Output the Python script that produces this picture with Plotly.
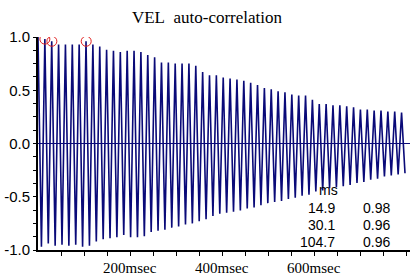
import plotly.graph_objects as go

# ---- data ----
PERIOD_MS = 14.9  # oscillation period (from table)
peak_values = [1.00, 0.98, 0.96, 0.93, 0.93, 0.93, 0.93, 0.96, 0.93, 0.91, 0.88, 0.87, 0.86,
               0.87, 0.87, 0.86, 0.83, 0.81, 0.76, 0.76, 0.75, 0.75, 0.75, 0.73, 0.67, 0.64,
               0.64, 0.62, 0.61, 0.60, 0.59, 0.57, 0.55, 0.52, 0.51, 0.49, 0.48, 0.46, 0.45, 0.45,
               0.41, 0.37, 0.37, 0.36, 0.36, 0.35, 0.34, 0.32, 0.32, 0.31, 0.31, 0.30, 0.30, 0.29]
trough_values = [-0.97, -0.94, -0.96, -0.95, -0.96, -0.95, -0.97, -0.96, -0.92, -0.90, -0.89, -0.88, -0.86,
                 -0.88, -0.88, -0.87, -0.83, -0.82, -0.81, -0.79, -0.78, -0.76, -0.75, -0.73, -0.71, -0.68,
                 -0.66, -0.65, -0.64, -0.63, -0.61, -0.60, -0.58, -0.56, -0.55, -0.54, -0.52, -0.51, -0.49, -0.48,
                 -0.45, -0.44, -0.42, -0.41, -0.40, -0.39, -0.37, -0.36, -0.34, -0.33, -0.31, -0.30, -0.29, -0.28]

marked_lags = [14.9, 30.1, 104.7]
marked_values = [0.98, 0.96, 0.96]

table_ms = ["14.9", "30.1", "104.7"]
table_val = ["0.98", "0.96", "0.96"]

x_tick_vals = [200, 400, 600]
x_tick_text = ["200msec", "400msec", "600msec"]
y_tick_vals = [1.0, 0.5, 0.0, -0.5, -1.0]
y_tick_text = ["1.0", "0.5", "0.0", "-0.5", "-1.0"]

# ---- build series ----
values = []
for p, t in zip(peak_values, trough_values):
    values += [p, t]
lags = [i * PERIOD_MS / 2 for i in range(len(values))]

NAVY = "#0a0a78"
W, H = 414, 280
ML, MR, MT, MB = 38, 4, 37, 30
X_MAX = 808

fig = go.Figure()
fig.add_trace(go.Scatter(x=lags, y=values, mode="lines",
                         line=dict(color=NAVY, width=1.6), hoverinfo="skip"))
fig.add_trace(go.Scatter(x=marked_lags, y=marked_values, mode="markers",
                         marker=dict(symbol="circle-open", size=10, color="#e02020",
                                     line=dict(width=1, color="#e02020")),
                         hoverinfo="skip"))

xt_vals = list(range(50, 801, 50))
yt_vals = [i * 0.125 - 1 for i in range(17)]
yt_text = []
for v in yt_vals:
    m = [lbl for tv, lbl in zip(y_tick_vals, y_tick_text) if abs(tv - v) < 1e-9]
    yt_text.append(m[0] if m else "")

fig.update_layout(
    width=W, height=H,
    margin=dict(l=ML, r=MR, t=MT, b=MB),
    paper_bgcolor="white", plot_bgcolor="white",
    showlegend=False,
    title=dict(text="VEL&nbsp;&nbsp;auto-correlation", x=0.5, xanchor="center",
               y=1 - 17 / H, yanchor="middle",
               font=dict(family="Liberation Serif", size=17, color="black")),
    xaxis=dict(range=[0, X_MAX], showgrid=False, zeroline=False,
               showline=True, linecolor="black", linewidth=2,
               ticks="outside", ticklen=4, tickcolor="black", tickwidth=1,
               tickvals=xt_vals, showticklabels=False,
               layer="above traces"),
    yaxis=dict(range=[-1, 1], showgrid=False,
               zeroline=True, zerolinecolor=NAVY, zerolinewidth=1,
               showline=True, linecolor="black", linewidth=2,
               ticks="outside", ticklen=3, tickcolor="black", tickwidth=1,
               tickvals=yt_vals, ticktext=yt_text,
               tickfont=dict(family="Liberation Sans", size=15, color="black"),
               layer="above traces"),
)

# x tick labels placed just below the axis
for v, t in zip(x_tick_vals, x_tick_text):
    fig.add_annotation(x=v, xref="x", y=268, yref="paper", text=t, showarrow=False,
                       xanchor="center", yanchor="middle",
                       font=dict(family="Liberation Serif", size=15, color="black"))

# results table (pixel positions)
fig.add_annotation(x=328, y=190, text="ms", showarrow=False, xref="paper", yref="paper",
                   xanchor="center", yanchor="middle",
                   font=dict(family="Liberation Sans", size=14, color="black"))
row_y = [208, 225, 242]
for ms, val, yy in zip(table_ms, table_val, row_y):
    fig.add_annotation(x=337, y=yy, text=ms, showarrow=False, xanchor="right", yanchor="middle",
                       xref="paper", yref="paper",
                       font=dict(family="Liberation Sans", size=14, color="black"))
    fig.add_annotation(x=376, y=yy, text=val, showarrow=False, xanchor="center", yanchor="middle",
                       xref="paper", yref="paper",
                       font=dict(family="Liberation Sans", size=14, color="black"))

# convert pixel coordinates to paper coords
pw, ph = W - ML - MR, H - MT - MB
for a in fig.layout.annotations:
    if a.xref == "paper":
        a.x = (a.x - ML) / pw
    a.y = 1 - (a.y - MT) / ph

fig.write_html("out.html", config={"displayModeBar": False},
               post_script="document.body.style.margin='0';")
